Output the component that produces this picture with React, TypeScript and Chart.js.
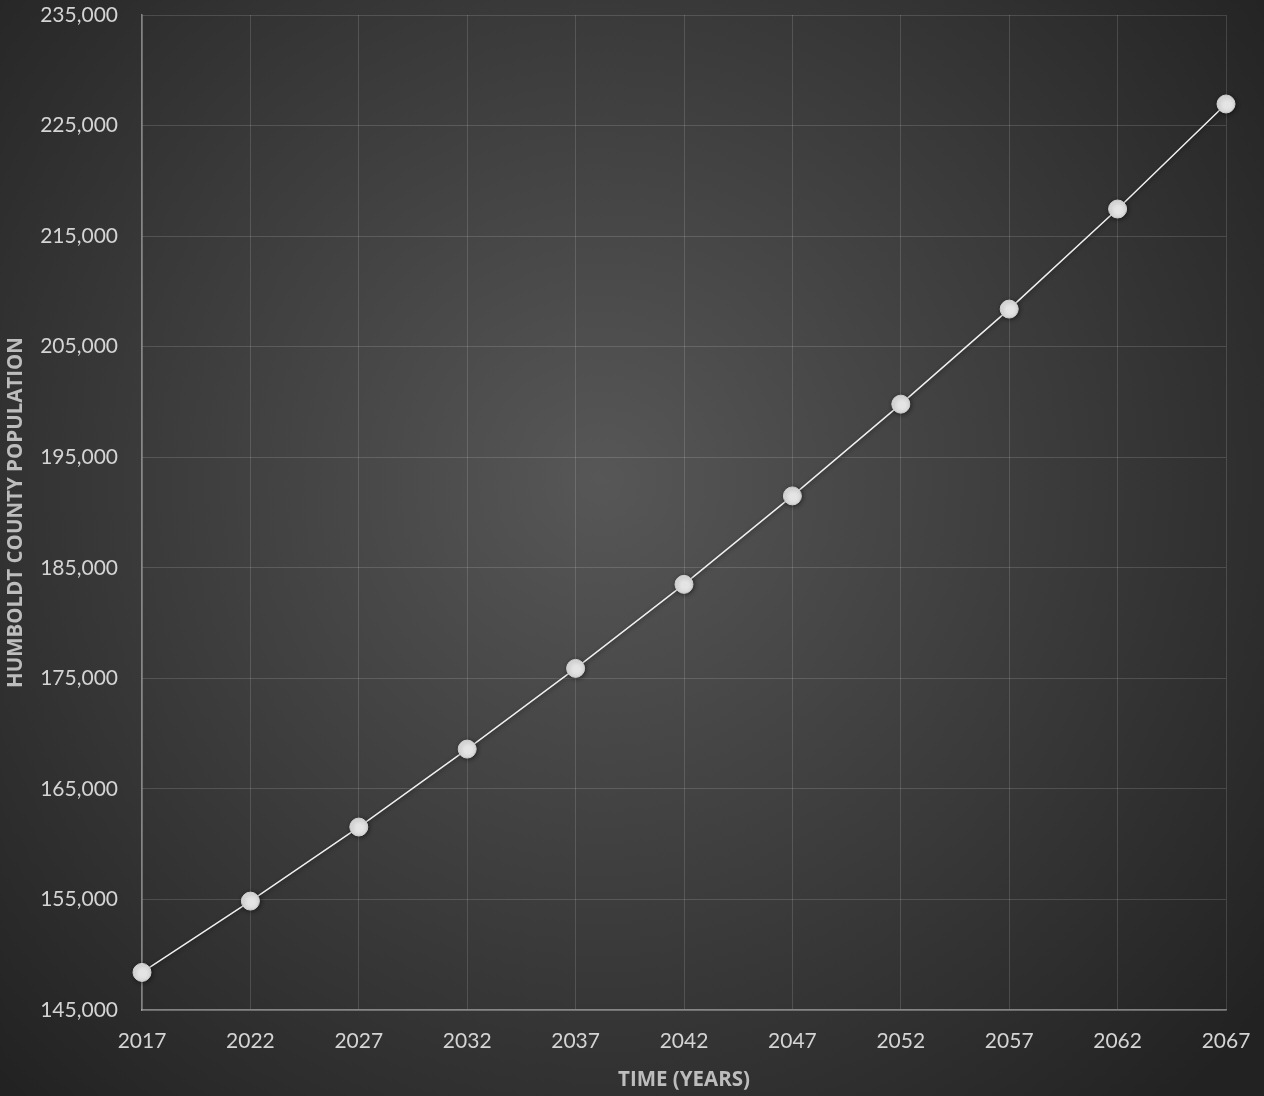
import React, { useEffect, useRef } from "react";
import { Chart, registerables } from "chart.js";

Chart.register(...registerables);

const years: string[] = ["2017", "2022", "2027", "2032", "2037", "2042", "2047", "2052", "2057", "2062", "2067"];
const population: number[] = [148400, 154850, 161550, 168600, 175900, 183500, 191500, 199800, 208400, 217450, 226950];
const yMin = 145000;
const yMax = 235000;
const yStep = 10000;
const xTitle = "TIME (YEARS)";
const yTitle = "HUMBOLDT COUNTY POPULATION";

const bgPlugin = {
  id: "bgGradient",
  beforeDraw(chart: any) {
    const { ctx, width, height } = chart;
    ctx.save();
    const g = ctx.createRadialGradient(600, 480, 0, 600, 480, 850);
    g.addColorStop(0, "#575757");
    g.addColorStop(0.55, "#3a3a3a");
    g.addColorStop(1, "#222222");
    ctx.fillStyle = g;
    ctx.fillRect(0, 0, width, height);
    ctx.restore();
  },
};

const shadowPlugin = {
  id: "pointShadow",
  beforeDatasetDraw(chart: any) {
    const ctx = chart.ctx;
    ctx.save();
    ctx.shadowColor = "rgba(0,0,0,0.45)";
    ctx.shadowBlur = 4;
    ctx.shadowOffsetX = 1;
    ctx.shadowOffsetY = 1;
  },
  afterDatasetDraw(chart: any) {
    chart.ctx.restore();
  },
};

export default function App() {
  const ref = useRef<HTMLCanvasElement | null>(null);
  useEffect(() => {
    document.body.style.margin = "0";
    if (!ref.current) return;
    const font = "Lato, 'Open Sans', sans-serif";
    const titleFont = "'Open Sans', Lato, sans-serif";
    const chart = new Chart(ref.current, {
      type: "line",
      data: {
        labels: years,
        datasets: [
          {
            data: population,
            borderColor: "#f0f0f0",
            borderWidth: 1.5,
            pointRadius: 9,
            pointBackgroundColor: "#e4e4e4",
            pointBorderColor: "#cfcfcf",
            pointBorderWidth: 1,
            tension: 0,
            clip: false,
          },
        ],
      },
      options: {
        responsive: false,
        animation: false,
        layout: { autoPadding: false, padding: { top: 15, right: 38, left: 0, bottom: 0 } },
        plugins: { legend: { display: false }, tooltip: { enabled: false } },
        scales: {
          x: {
            offset: false,
            grid: { color: "rgba(255,255,255,0.14)", drawTicks: false },
            border: { color: "rgba(200,200,200,0.55)", width: 1.5 },
            ticks: { color: "#d4d4d4", font: { family: font, size: 21 }, padding: 19, maxRotation: 0 },
            title: { display: true, text: xTitle, color: "#bdbdbd", font: { family: titleFont, size: 20.5, weight: 700 }, padding: { top: 0, bottom: 4 } },
            afterFit(scale: any) {
              scale.height = 86;
              scale.paddingLeft = 0;
              scale.paddingRight = 0;
            },
          },
          y: {
            min: yMin,
            max: yMax,
            grid: { color: "rgba(255,255,255,0.14)", drawTicks: false },
            border: { color: "rgba(200,200,200,0.55)", width: 1.5 },
            ticks: {
              stepSize: yStep,
              color: "#d4d4d4",
              font: { family: font, size: 21 },
              padding: 24,
              callback: (v: any) => Number(v).toLocaleString("en-US"),
            },
            title: { display: true, text: yTitle, color: "#bdbdbd", font: { family: titleFont, size: 20.5, weight: 700 }, padding: { top: 4, bottom: 0 } },
            afterFit(scale: any) {
              scale.width = 142;
              scale.paddingTop = 0;
              scale.paddingBottom = 0;
            },
          },
        },
      },
      plugins: [bgPlugin, shadowPlugin],
    });
    return () => chart.destroy();
  }, []);
  return (
    <div style={{ position: "fixed", left: 0, top: 0, width: 1264, height: 1096 }}>
      <canvas ref={ref} width={1264} height={1096} style={{ display: "block" }} />
    </div>
  );
}
